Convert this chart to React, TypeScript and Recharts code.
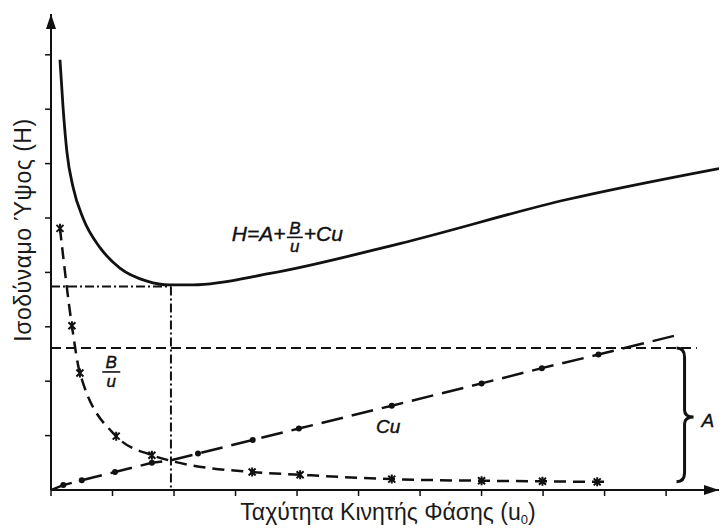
import { LineChart, Line, XAxis, YAxis, ReferenceLine, ReferenceDot, Label } from "recharts";

// καμπύλη Van Deemter: H = A + B/u + Cu (τιμές σε μονάδες υποδιαιρέσεων)
const plateHeight = [
  { u: 0.146, h: 7.91 },
  { u: 0.195, h: 7.05 },
  { u: 0.26, h: 6.2 },
  { u: 0.36, h: 5.56 },
  { u: 0.52, h: 5.0 },
  { u: 0.8, h: 4.45 },
  { u: 1.12, h: 4.08 },
  { u: 1.56, h: 3.84 },
  { u: 1.93, h: 3.77 },
  { u: 2.31, h: 3.77 },
  { u: 3.56, h: 3.98 },
  { u: 5.67, h: 4.53 },
  { u: 8.39, h: 5.34 },
  { u: 10.86, h: 5.91 },
];

const diffusionTerm = [
  { u: 0.146, h: 4.81, mark: true },
  { u: 0.34, h: 3.02, mark: true },
  { u: 0.47, h: 2.15, mark: true },
  { u: 1.06, h: 0.99, mark: true },
  { u: 1.64, h: 0.64, mark: true },
  { u: 1.97, h: 0.53, mark: false },
  { u: 3.27, h: 0.33, mark: true },
  { u: 4.05, h: 0.28, mark: true },
  { u: 5.54, h: 0.2, mark: true },
  { u: 7.0, h: 0.17, mark: true },
  { u: 7.99, h: 0.16, mark: true },
  { u: 8.88, h: 0.15, mark: true },
  { u: 9.03, h: 0.15, mark: false },
];

const massTransferTerm = [
  { u: 0, h: 0, mark: false },
  { u: 0.2, h: 0.09, mark: true },
  { u: 0.5, h: 0.18, mark: true },
  { u: 1.04, h: 0.33, mark: true },
  { u: 1.64, h: 0.5, mark: true },
  { u: 1.97, h: 0.55, mark: false },
  { u: 2.39, h: 0.67, mark: true },
  { u: 3.28, h: 0.92, mark: true },
  { u: 4.03, h: 1.13, mark: true },
  { u: 5.54, h: 1.55, mark: true },
  { u: 7.0, h: 1.96, mark: true },
  { u: 7.98, h: 2.24, mark: true },
  { u: 8.9, h: 2.49, mark: true },
  { u: 10.15, h: 2.84, mark: false },
];

const aTerm = 2.61;
const aLineEnd = 10.5;
const optimum = { u: 1.95, h: 3.74 };
const braceBottom = 0.15;
const braceU = 10.3;

const xTicks = [0, 1, 2, 3, 4, 5, 6, 7, 8, 9, 10];
const yTicks = [1, 2, 3, 4, 5, 6, 7, 8];
const xMax = 10.86;
const yMax = 8.75;

const INK = "#111";
const FONT = "'Liberation Sans', Arial, sans-serif";

const noTick = () => <g />;

const crossDot = (p: any) => {
  const { cx, cy, payload, index } = p;
  if (!payload.mark) return <g key={`c${index}`} />;
  const s = 3.5;
  return (
    <path
      key={`c${index}`}
      d={`M${cx - s},${cy - s}L${cx + s},${cy + s}M${cx - s},${cy + s}L${cx + s},${cy - s}M${cx},${cy - s - 1}L${cx},${cy + s + 1}`}
      stroke={INK}
      strokeWidth={2}
    />
  );
};

const roundDot = (p: any) => {
  const { cx, cy, payload, index } = p;
  if (!payload.mark) return <g key={`r${index}`} />;
  return <circle key={`r${index}`} cx={cx} cy={cy} r={3} fill={INK} />;
};

const upArrow = (p: any) => (
  <path d={`M${p.cx},${p.cy}L${p.cx - 5},${p.cy + 15}L${p.cx + 5},${p.cy + 15}Z`} fill={INK} />
);

const rightArrow = (p: any) => (
  <path d={`M${p.cx},${p.cy}L${p.cx - 15},${p.cy - 5}L${p.cx - 15},${p.cy + 5}Z`} fill={INK} />
);

const formula = (p: any) => {
  const x = p.cx;
  const y = p.cy;
  const st = { fontFamily: FONT, fontStyle: "italic", fill: INK, stroke: INK, strokeWidth: 0.4 } as const;
  return (
    <g>
      <text x={x} y={y} fontSize={21} style={st}>H=A+</text>
      <text x={x + 63} y={y - 7} fontSize={17} textAnchor="middle" style={st}>B</text>
      <line x1={x + 55} x2={x + 71} y1={y - 4} y2={y - 4} stroke={INK} strokeWidth={1.6} />
      <text x={x + 63} y={y + 11} fontSize={17} textAnchor="middle" style={st}>u</text>
      <text x={x + 72} y={y} fontSize={21} style={st}>+Cu</text>
    </g>
  );
};

const fractionBU = (p: any) => {
  const st = { fontFamily: FONT, fontStyle: "italic", fill: INK, stroke: INK, strokeWidth: 0.4 } as const;
  return (
    <g>
      <text x={p.cx} y={p.cy - 4} fontSize={17} textAnchor="middle" style={st}>B</text>
      <line x1={p.cx - 9} x2={p.cx + 9} y1={p.cy} y2={p.cy} stroke={INK} strokeWidth={1.6} />
      <text x={p.cx} y={p.cy + 15} fontSize={17} textAnchor="middle" style={st}>u</text>
    </g>
  );
};

const italicLabel = (txt: string) => (p: any) => (
  <text
    x={p.cx}
    y={p.cy}
    fontSize={19}
    textAnchor="middle"
    dominantBaseline="central"
    style={{ fontFamily: FONT, fontStyle: "italic", fill: INK, stroke: INK, strokeWidth: 0.4 }}
  >
    {txt}
  </text>
);

const brace = (p: any) => {
  const x = p.x1;
  const top = Math.min(p.y1, p.y2);
  const bot = Math.max(p.y1, p.y2);
  const mid = (top + bot) / 2 + 2;
  const d = `M${x - 8},${top} Q${x},${top} ${x},${top + 9} L${x},${mid - 7} Q${x},${mid} ${x + 9},${mid} Q${x},${mid} ${x},${mid + 7} L${x},${bot - 9} Q${x},${bot} ${x - 8},${bot}`;
  return <path d={d} fill="none" stroke={INK} strokeWidth={3} />;
};

export default function App() {
  return (
    <div style={{ position: "absolute", left: 0, top: 0, background: "#fff" }}>
      <LineChart width={721} height={528} margin={{ top: 14, right: 2, bottom: 37, left: 50 }}>
        <XAxis
          dataKey="u"
          type="number"
          domain={[0, xMax]}
          ticks={xTicks}
          allowDataOverflow
          height={1}
          axisLine={{ stroke: INK, strokeWidth: 2 }}
          tickLine={{ stroke: INK, strokeWidth: 1.5 }}
          tickSize={6}
          tick={noTick}
        >
          <Label
            content={() => (
              <text x={388} y={520} textAnchor="middle" fontSize={23} fill="#1a1a1a" fontFamily={FONT}>
                Ταχύτητα Κινητής Φάσης (u
                <tspan dy={4} fontSize={13}>0</tspan>
                <tspan dy={-4}>)</tspan>
              </text>
            )}
          />
        </XAxis>
        <YAxis
          type="number"
          domain={[0, yMax]}
          ticks={yTicks}
          allowDataOverflow
          width={1}
          axisLine={{ stroke: INK, strokeWidth: 2 }}
          tickLine={{ stroke: INK, strokeWidth: 1.5 }}
          tickSize={6}
          tick={noTick}
        >
          <Label
            content={() => (
              <text
                transform="translate(31,230) rotate(-90)"
                textAnchor="middle"
                fontSize={23}
                letterSpacing={0.5}
                fill="#1a1a1a"
                fontFamily={FONT}
              >
                Ισοδύναμο Ύψος (H)
              </text>
            )}
          />
        </YAxis>

        <ReferenceLine
          segment={[{ x: 0, y: aTerm }, { x: aLineEnd, y: aTerm }]}
          stroke={INK}
          strokeWidth={2.2}
          strokeDasharray="10 5"
          ifOverflow="visible"
        />
        <ReferenceLine
          segment={[{ x: 0, y: optimum.h }, { x: optimum.u, y: optimum.h }]}
          stroke={INK}
          strokeWidth={2}
          strokeDasharray="9 3 2 3"
          ifOverflow="visible"
        />
        <ReferenceLine
          segment={[{ x: optimum.u, y: optimum.h }, { x: optimum.u, y: 0 }]}
          stroke={INK}
          strokeWidth={2}
          strokeDasharray="9 3 2 3"
          ifOverflow="visible"
        />
        <ReferenceLine
          segment={[{ x: braceU, y: aTerm }, { x: braceU, y: braceBottom }]}
          shape={brace}
          ifOverflow="visible"
        />

        <Line
          data={plateHeight}
          dataKey="h"
          type="monotone"
          stroke={INK}
          strokeWidth={2.8}
          dot={false}
          activeDot={false}
          isAnimationActive={false}
        />
        <Line
          data={diffusionTerm}
          dataKey="h"
          type="monotone"
          stroke={INK}
          strokeWidth={2.5}
          strokeDasharray="12 7"
          dot={crossDot}
          activeDot={false}
          isAnimationActive={false}
        />
        <Line
          data={massTransferTerm}
          dataKey="h"
          type="linear"
          stroke={INK}
          strokeWidth={2.5}
          strokeDasharray="22 9"
          dot={roundDot}
          activeDot={false}
          isAnimationActive={false}
        />

        <ReferenceDot x={0} y={yMax} r={0} shape={upArrow} ifOverflow="visible" />
        <ReferenceDot x={xMax} y={0} r={0} shape={rightArrow} ifOverflow="visible" />
        <ReferenceDot x={2.94} y={4.57} shape={formula} ifOverflow="visible" />
        <ReferenceDot x={0.98} y={2.17} shape={fractionBU} ifOverflow="visible" />
        <ReferenceDot x={5.48} y={1.16} shape={italicLabel("Cu")} ifOverflow="visible" />
        <ReferenceDot x={10.68} y={1.27} shape={italicLabel("A")} ifOverflow="visible" />
      </LineChart>
    </div>
  );
}
